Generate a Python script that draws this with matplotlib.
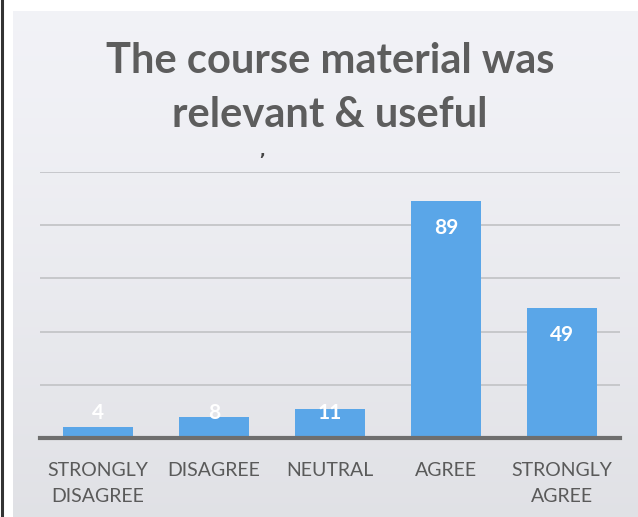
import matplotlib
matplotlib.use("Agg")
import matplotlib.pyplot as plt
import numpy as np

categories = ["STRONGLY\nDISAGREE", "DISAGREE", "NEUTRAL", "AGREE", "STRONGLY\nAGREE"]
values = [4, 8, 11, 89, 49]
title = "The course material was\nrelevant & useful"

W, H = 638, 517
fig = plt.figure(figsize=(W / 100, H / 100), dpi=100)
fig.patch.set_facecolor("white")

# background panel with slight gradient
bg = fig.add_axes([13 / W, 0, 1 - 13 / W, 1 - 11 / H])
grad = np.linspace(0, 1, 256).reshape(-1, 1)
top = np.array([0.948, 0.950, 0.968])
bot = np.array([0.880, 0.883, 0.900])
img = top + (bot - top) * grad[..., None] ** 1.3
bg.imshow(img, aspect="auto", extent=[0, 1, 0, 1])
bg.set_axis_off()

# scanned page edge on the left
fig.add_artist(plt.Line2D([2 / W, 2 / W], [0, 1], color="#333333", lw=2.2, transform=fig.transFigure))

left, right = 40 / W, 620 / W
bottom, topy = 1 - 438 / H, 1 - 172 / H
ax = fig.add_axes([left, bottom, right - left, topy - bottom])
ax.set_facecolor("none")
x = np.arange(len(values))
ax.bar(x, values, width=0.6, color="#5aa6e8", zorder=3)
ax.set_xlim(-0.5, len(values) - 0.5)
ax.set_ylim(0, 100)
ax.set_yticks([20, 40, 60, 80, 100])
ax.yaxis.grid(True, color="#c4c5c8", lw=1.3, zorder=0)
ax.tick_params(axis="y", length=0, labelleft=False)
ax.tick_params(axis="x", length=0, pad=17)
ax.set_xticks(x)
ax.set_xticklabels(categories, fontsize=14, color="#5a5a5a", family="Lato", linespacing=1.65)
for s in ["top", "right", "left"]:
    ax.spines[s].set_visible(False)
ax.spines["bottom"].set_color("#6e6e6e")
ax.spines["bottom"].set_linewidth(3)
ax.spines["bottom"].set_zorder(4)

for xi, v in zip(x, values):
    ax.annotate(str(v), xy=(xi, max(v, 19.6)), xytext=(0, -27), textcoords="offset pixels",
                ha="center", va="center", color="white", fontsize=15, fontweight="bold", family="Lato", zorder=5)

fig.text(330 / W, 1 - 88 / H, title, ha="center", va="center", fontsize=30, fontweight="bold",
         color="#5d5d5d", family="Lato", linespacing=1.5)

# small scan artifact mark under the title
fig.text(262 / W, 1 - 152 / H, ",", ha="center", va="center", fontsize=11, fontweight="bold", color="#444444")

fig.savefig("out.png", dpi=100)
